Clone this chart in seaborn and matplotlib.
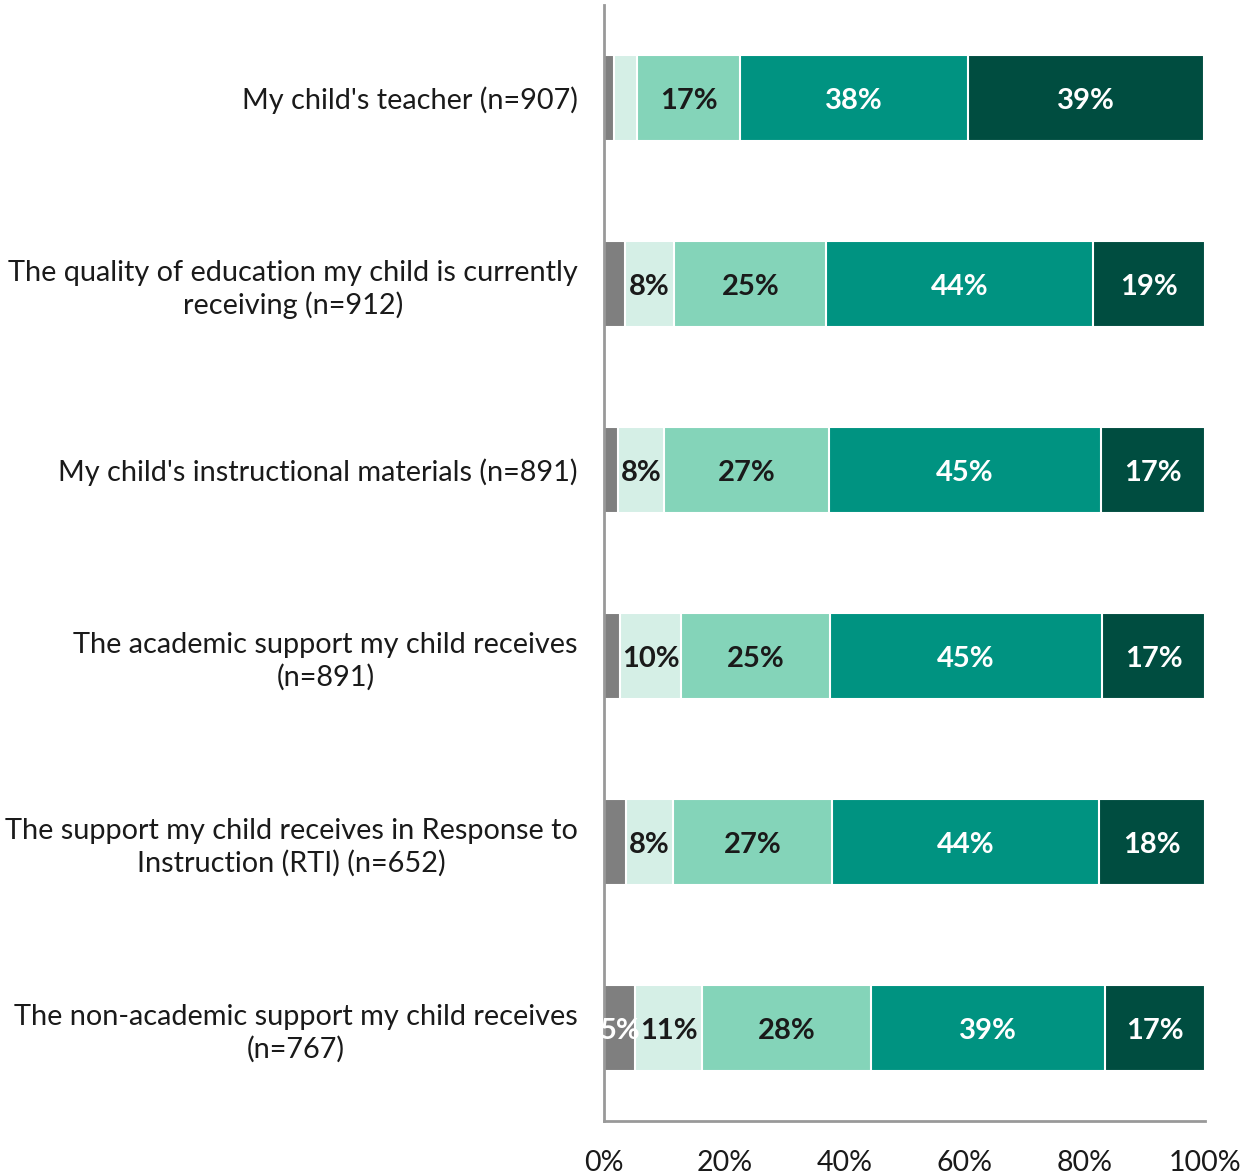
import numpy as np
import pandas as pd
import matplotlib.pyplot as plt
import seaborn as sns

# survey items (wrapped like the original)
items = ["My child's teacher (n=907)",
         "The quality of education my child is currently\nreceiving (n=912)",
         "My child's instructional materials (n=891)",
         "The academic support my child receives\n(n=891)",
         "The support my child receives in Response to\nInstruction (RTI) (n=652)",
         "The non-academic support my child receives\n(n=767)"]

# share of responses per level, low -> high (%)
lvl1 = [1.7, 3.5, 2.3, 2.7, 3.7, 5.2]
lvl2 = [3.8, 8.2, 7.7, 10.1, 7.7, 11.1]
lvl3 = [17.1, 25.3, 27.4, 24.8, 26.6, 28.1]
lvl4 = [37.9, 44.4, 45.3, 45.3, 44.4, 38.9]
lvl5 = [39.4, 18.6, 17.3, 17.1, 17.6, 16.7]

levels = [lvl1, lvl2, lvl3, lvl4, lvl5]
colors = ["#7f7f7f", "#d5efe6", "#84d4b9", "#009381", "#004d40"]
txt_colors = ["white", "#1a1a1a", "#1a1a1a", "white", "white"]

sns.set_theme(style="white")
plt.rcParams['font.family'] = ['Lato', 'DejaVu Sans']

df = pd.DataFrame({"item": items})
cum = np.cumsum(np.array(levels), axis=0)
for i in range(len(levels)):
    df[f"c{i}"] = cum[i]

fig = plt.figure(figsize=(12.55, 11.76), dpi=100)
ax = fig.add_axes([0.4813, 0.0468, 0.4789, 0.9489])

# stack by overdrawing cumulative totals, largest first
for i in reversed(range(len(levels))):
    sns.barplot(data=df, x=f"c{i}", y="item", orient="h", color=colors[i],
                saturation=1, width=0.465, edgecolor="white", linewidth=1.5, ax=ax)

# segment labels
for r in range(len(items)):
    left = 0
    for i, lv in enumerate(levels):
        v = lv[r]
        if v >= 5:
            ax.text(left + v / 2, r + 0.015, f"{round(v)}%", ha="center", va="center",
                    fontsize=21, fontweight="bold", color=txt_colors[i])
        left += v

ax.set_xlim(0, 100)
ax.set_ylim(5.5, -0.5)
ax.set_xticks(np.arange(0, 101, 20))
ax.set_xticklabels([f"{t}%" for t in range(0, 101, 20)])
ax.set_xlabel("")
ax.set_ylabel("")
ax.tick_params(axis="x", length=0, pad=21, labelsize=20.5, colors="#1a1a1a")
ax.tick_params(axis="y", length=0, pad=19, labelsize=20.8, colors="#1a1a1a")
for lab in ax.get_yticklabels():
    lab.set_multialignment("center")
    lab.set_linespacing(1.25)

for s in ["top", "right"]:
    ax.spines[s].set_visible(False)
for s in ["left", "bottom"]:
    ax.spines[s].set_color("#999999")
    ax.spines[s].set_linewidth(2)

plt.savefig("out.png", dpi=100)
